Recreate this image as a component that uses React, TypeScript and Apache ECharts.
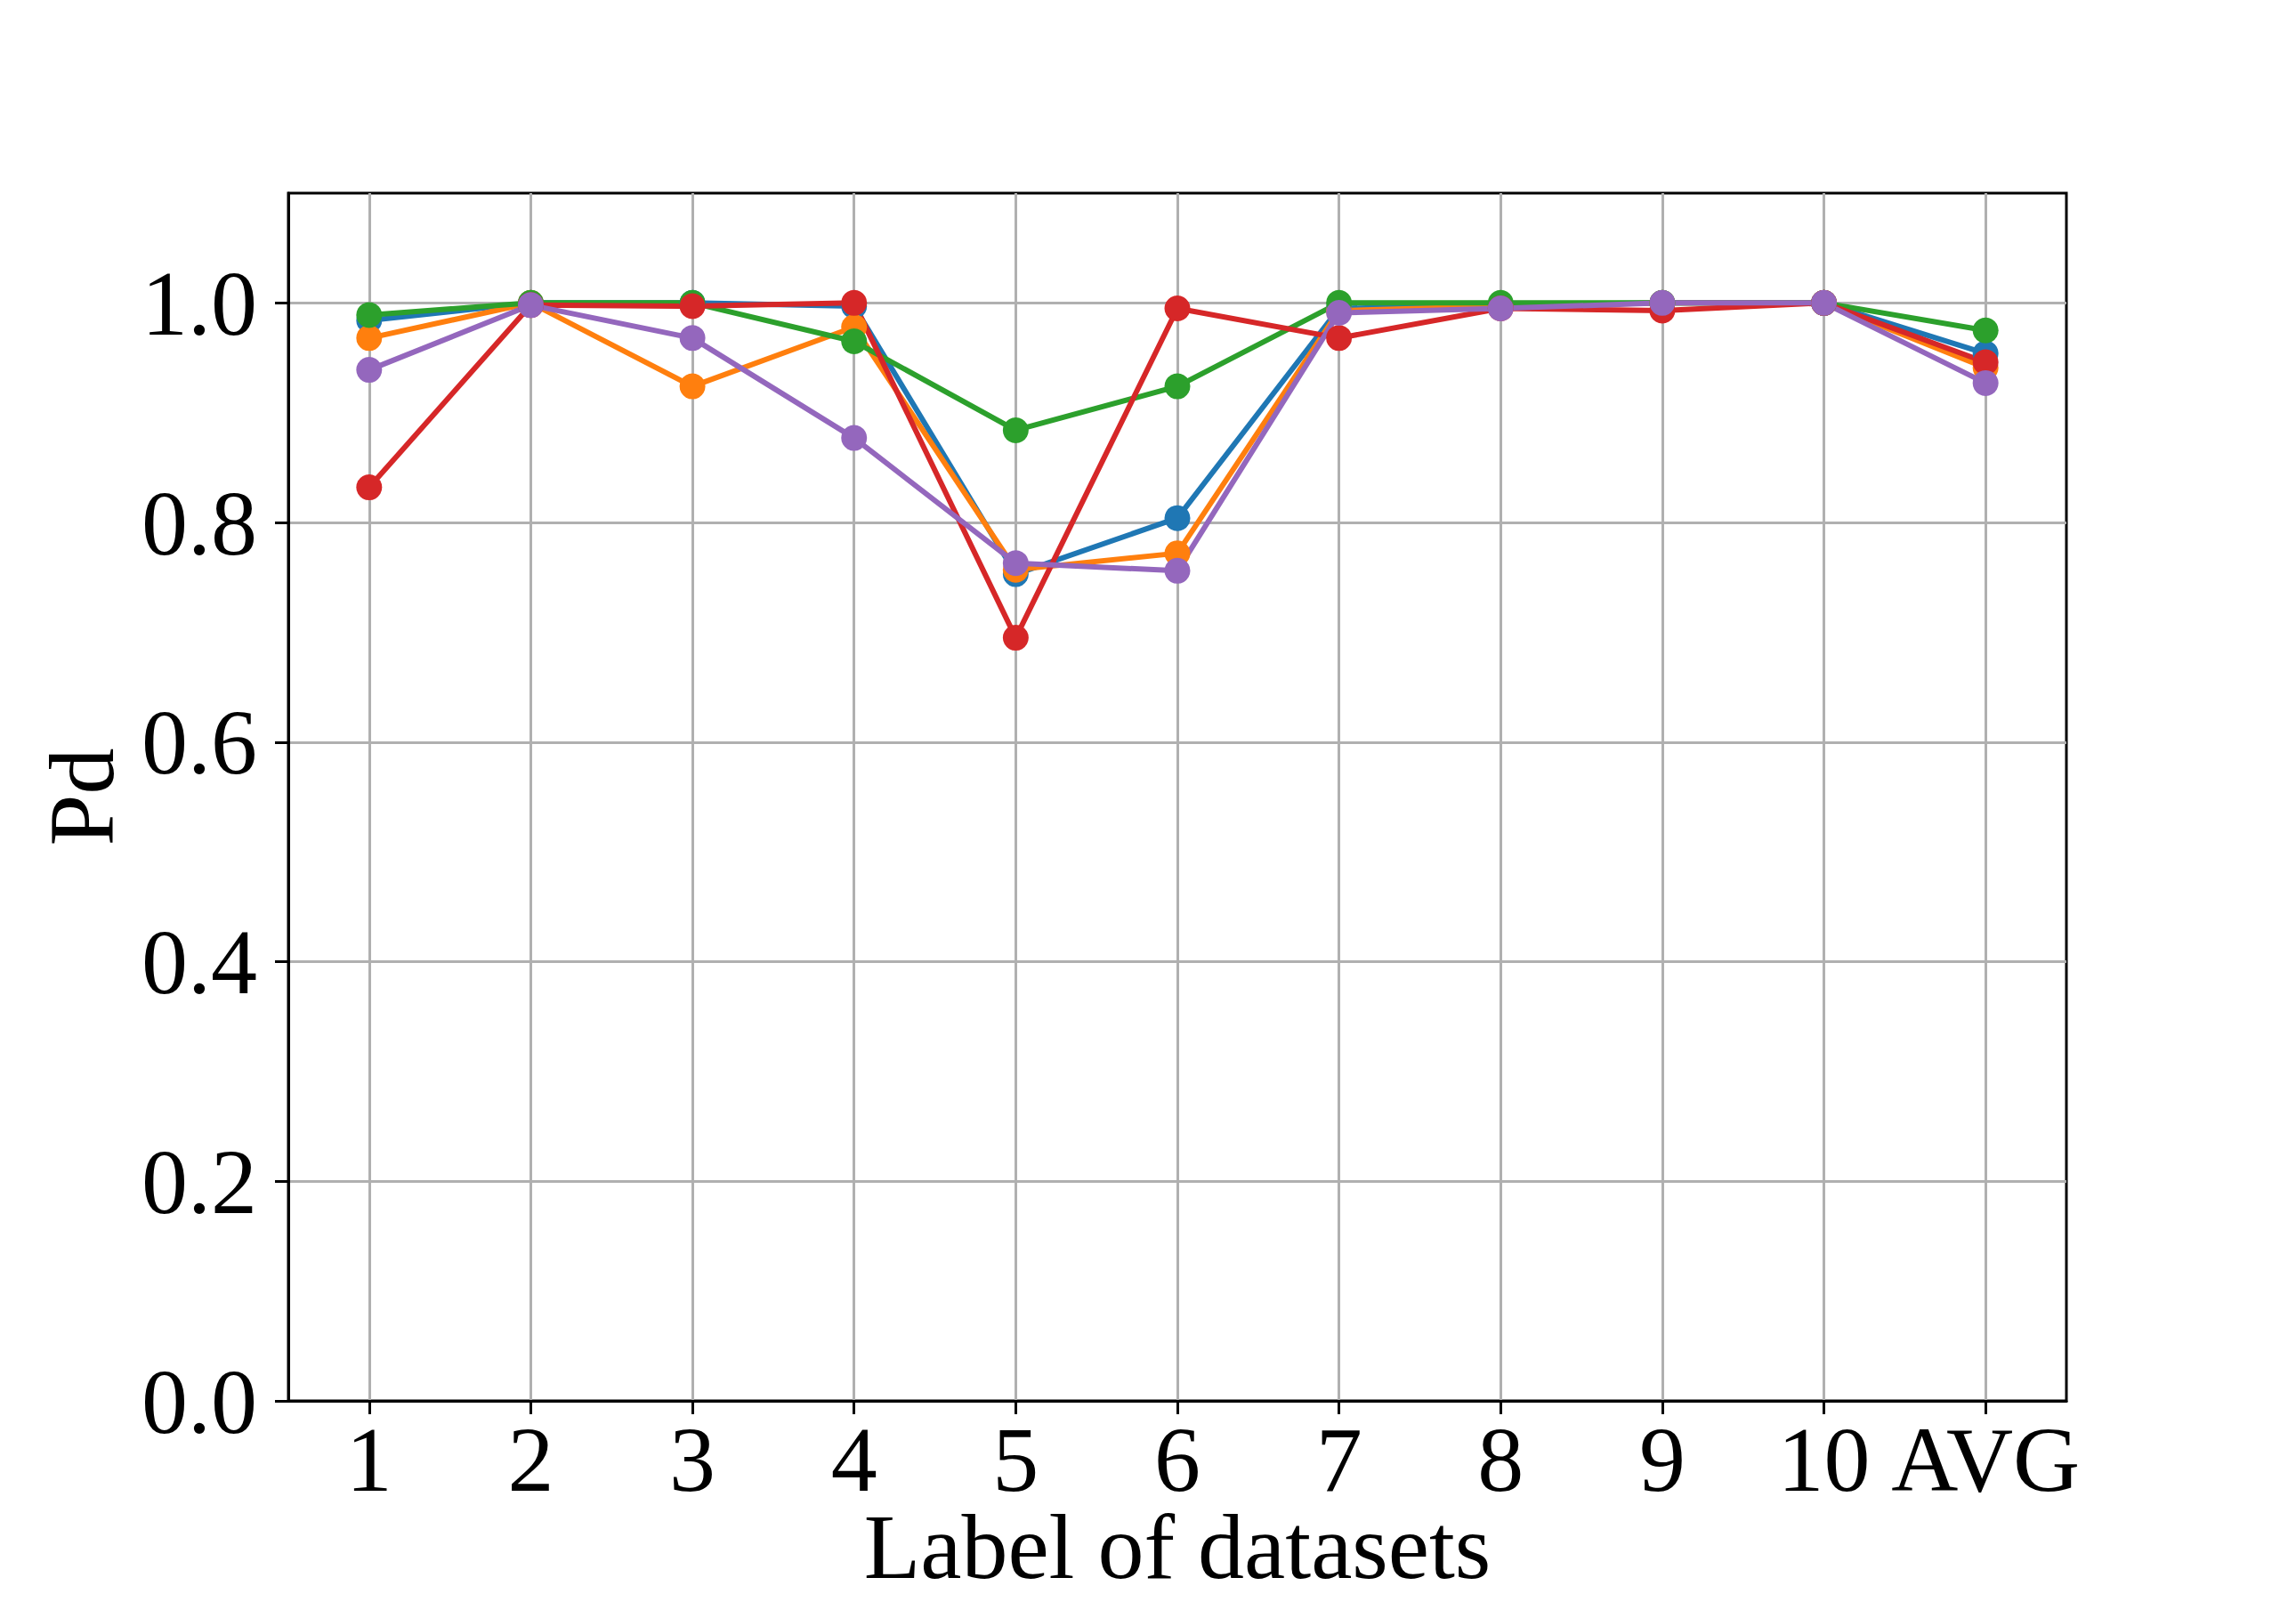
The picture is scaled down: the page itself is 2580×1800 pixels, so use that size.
import React, { useEffect, useRef } from "react";
import * as echarts from "echarts";

const categories = ["1", "2", "3", "4", "5", "6", "7", "8", "9", "10", "AVG"];
const seriesBlue = [0.984, 1.0, 1.0, 0.997, 0.753, 0.804, 0.995, 0.998, 1.0, 1.0, 0.954];
const seriesOrange = [0.968, 1.0, 0.924, 0.978, 0.757, 0.772, 0.993, 0.997, 1.0, 1.0, 0.941];
const seriesGreen = [0.989, 1.0, 1.0, 0.965, 0.884, 0.924, 1.0, 1.0, 1.0, 1.0, 0.975];
const seriesRed = [0.832, 0.998, 0.997, 1.0, 0.695, 0.995, 0.968, 0.995, 0.993, 1.0, 0.946];
const seriesPurple = [0.939, 0.998, 0.968, 0.877, 0.763, 0.756, 0.991, 0.995, 1.0, 1.0, 0.927];
const yTicks = [0, 0.2, 0.4, 0.6, 0.8, 1.0];
const xLabel = "Label of datasets";
const yLabel = "Pd";

const allSeries = [
  { name: "s1", data: seriesBlue, color: "#1f77b4" },
  { name: "s2", data: seriesOrange, color: "#ff7f0e" },
  { name: "s3", data: seriesGreen, color: "#2ca02c" },
  { name: "s4", data: seriesRed, color: "#d62728" },
  { name: "s5", data: seriesPurple, color: "#9467bd" },
];

const FONT = "'Liberation Serif', 'Times New Roman', serif";
const FS = 104;

export default function App() {
  const ref = useRef<HTMLDivElement>(null);
  useEffect(() => {
    document.body.style.margin = "0";
    if (!ref.current) return;
    const chart = echarts.init(ref.current, null, { renderer: "svg" });
    const xIdx = categories.map((_, i) => i);
    chart.setOption({
      animation: false,
      backgroundColor: "#ffffff",
      grid: {
        left: 324,
        right: 258,
        top: 217,
        bottom: 226,
        show: true,
        borderColor: "#000",
        borderWidth: 3,
        backgroundColor: "transparent",
        containLabel: false,
        outerBoundsMode: "none",
      },
      xAxis: {
        type: "value",
        min: -0.5,
        max: 10.5,
        name: xLabel,
        nameLocation: "middle",
        nameGap: 123,
        nameMoveOverlap: false,
        nameTextStyle: { fontFamily: FONT, fontSize: FS, color: "#000", lineHeight: 80, verticalAlign: "top" },
        axisLine: { show: true, onZero: false, lineStyle: { color: "#000", width: 3 } },
        axisTick: { show: true, length: 15, lineStyle: { color: "#000", width: 3 }, customValues: xIdx },
        axisLabel: {
          customValues: xIdx,
          margin: 25,
          fontFamily: FONT,
          fontSize: FS,
          lineHeight: 80,
          color: "#000",
          formatter: (v: number) => categories[Math.round(v)] ?? "",
        },
        splitLine: { show: true, lineStyle: { color: "#b0b0b0", width: 3 } },
      },
      yAxis: {
        type: "value",
        min: 0,
        max: 1.1,
        name: yLabel,
        nameLocation: "middle",
        nameGap: 181,
        nameTextStyle: { fontFamily: FONT, fontSize: FS, color: "#000", lineHeight: FS },
        axisLine: { show: true, onZero: false, lineStyle: { color: "#000", width: 3 } },
        axisTick: { show: true, length: 15, lineStyle: { color: "#000", width: 3 }, customValues: yTicks },
        axisLabel: {
          customValues: yTicks,
          margin: 35,
          fontFamily: FONT,
          fontSize: FS,
          lineHeight: FS,
          color: "#000",
          formatter: (v: number) => v.toFixed(1),
        },
        splitLine: { show: true, lineStyle: { color: "#b0b0b0", width: 3 } },
      },
      series: allSeries.map((s) => ({
        name: s.name,
        type: "line",
        data: s.data.map((v, i) => [i, v]),
        symbol: "circle",
        symbolSize: 29,
        showSymbol: true,
        lineStyle: { color: s.color, width: 6 },
        itemStyle: { color: s.color, borderWidth: 0 },
        emphasis: { disabled: true },
      })),
    });
    return () => chart.dispose();
  }, []);
  return (
    <div
      ref={ref}
      style={{ width: 2580, height: 1800, position: "absolute", left: 0, top: 0, background: "#fff" }}
    />
  );
}
